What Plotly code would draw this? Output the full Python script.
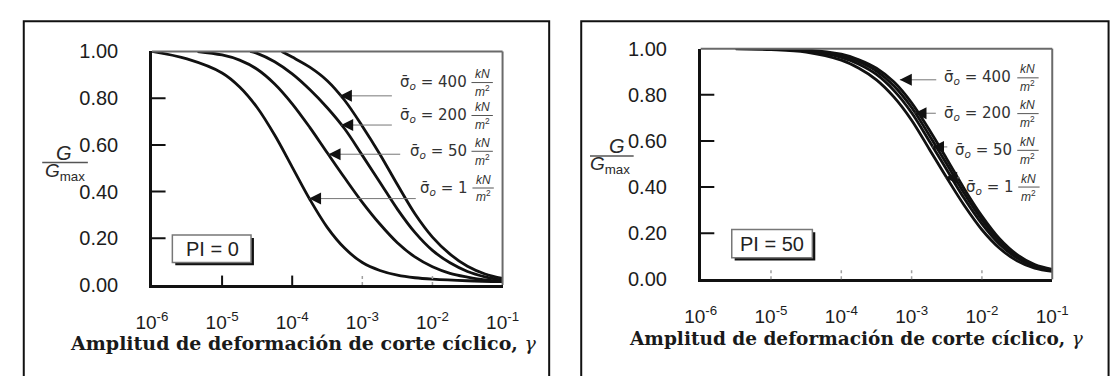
import plotly.graph_objects as go
import numpy as np

W, H = 1110, 376

# ---------------- data ----------------
# PI = 0 (left panel): shear strain and G/Gmax for each effective confining stress
strain_pi0_s1 = [1e-6, 3.16e-6, 1e-5, 1.78e-5, 3.16e-5, 5.62e-5, 1e-4, 1.78e-4, 3.16e-4,
                 5.62e-4, 1e-3, 1.78e-3, 3.16e-3, 5.62e-3, 1e-2, 3.16e-2, 1e-1]
g_pi0_s1 = [1.00, 0.968, 0.908, 0.848, 0.760, 0.642, 0.505, 0.367, 0.247,
            0.157, 0.096, 0.062, 0.042, 0.031, 0.025, 0.018, 0.014]

strain_pi0_s50 = [4.47e-6, 1e-5, 1.78e-5, 3.16e-5, 5.62e-5, 1e-4, 1.78e-4, 3.16e-4, 5.62e-4,
                  1e-3, 1.78e-3, 3.16e-3, 5.62e-3, 1e-2, 1.78e-2, 3.16e-2, 5.62e-2, 1e-1]
g_pi0_s50 = [1.00, 0.985, 0.963, 0.924, 0.861, 0.776, 0.675, 0.566, 0.458,
             0.354, 0.261, 0.181, 0.120, 0.078, 0.050, 0.034, 0.022, 0.016]

strain_pi0_s200 = [2.51e-5, 3.16e-5, 5.62e-5, 1e-4, 1.78e-4, 3.16e-4, 5.62e-4, 1e-3, 1.78e-3,
                   3.16e-3, 5.62e-3, 1e-2, 1.78e-2, 3.16e-2, 5.62e-2, 1e-1]
g_pi0_s200 = [1.00, 0.992, 0.956, 0.904, 0.837, 0.759, 0.668, 0.555, 0.440,
              0.325, 0.225, 0.148, 0.095, 0.058, 0.035, 0.020]

strain_pi0_s400 = [7.08e-5, 1e-4, 1.78e-4, 3.16e-4, 5.62e-4, 1e-3, 1.78e-3, 3.16e-3, 5.62e-3,
                   1e-2, 1.78e-2, 3.16e-2, 5.62e-2, 1e-1]
g_pi0_s400 = [1.00, 0.976, 0.933, 0.875, 0.790, 0.680, 0.560, 0.430, 0.305,
              0.205, 0.132, 0.080, 0.047, 0.028]

# PI = 50 (right panel)
strain_pi50 = [3.16e-6, 1e-5, 3.16e-5, 1e-4, 1.78e-4, 3.16e-4, 5.62e-4, 1e-3, 1.78e-3,
               3.16e-3, 5.62e-3, 1e-2, 1.78e-2, 3.16e-2, 5.62e-2, 1e-1]
g_pi50_s1 = [0.999, 0.996, 0.985, 0.950, 0.915, 0.865, 0.790, 0.690, 0.565,
             0.440, 0.320, 0.215, 0.135, 0.080, 0.048, 0.034]
g_pi50_s50 = [1.000, 0.998, 0.990, 0.962, 0.932, 0.888, 0.818, 0.722, 0.600,
              0.475, 0.350, 0.240, 0.152, 0.092, 0.055, 0.038]
g_pi50_s200 = [1.000, 1.000, 0.993, 0.970, 0.943, 0.903, 0.838, 0.745, 0.625,
               0.500, 0.372, 0.258, 0.165, 0.100, 0.060, 0.041]
g_pi50_s400 = [1.000, 1.000, 0.995, 0.976, 0.952, 0.915, 0.855, 0.765, 0.648,
               0.522, 0.392, 0.274, 0.176, 0.107, 0.064, 0.043]

stress_labels = ["400", "200", "50", "1"]
x_tick_vals = [1e-6, 1e-5, 1e-4, 1e-3, 1e-2, 1e-1]
x_tick_text = ["10<sup>-6</sup>", "10<sup>-5</sup>", "10<sup>-4</sup>",
               "10<sup>-3</sup>", "10<sup>-2</sup>", "10<sup>-1</sup>"]
y_tick_vals = [0, 0.2, 0.4, 0.6, 0.8, 1.0]
y_tick_text = ["0.00", "0.20", "0.40", "0.60", "0.80", "1.00"]
pi_labels = ["PI = 0", "PI = 50"]
x_title = "Amplitud de deformación de corte cíclico, "

# ---------------- figure ----------------
def px(x):
    return x / W

def py(y):
    return 1 - y / H

LINE = dict(color="#111111", width=2.8)
fig = go.Figure()

left_curves = [(strain_pi0_s1, g_pi0_s1), (strain_pi0_s50, g_pi0_s50),
               (strain_pi0_s200, g_pi0_s200), (strain_pi0_s400, g_pi0_s400)]
for sx, sy in left_curves:
    fig.add_trace(go.Scatter(x=sx, y=sy, mode="lines", line=dict(**LINE, shape="spline"),
                             xaxis="x", yaxis="y", hoverinfo="skip", showlegend=False))
for sy in [g_pi50_s1, g_pi50_s50, g_pi50_s200, g_pi50_s400]:
    fig.add_trace(go.Scatter(x=strain_pi50, y=sy, mode="lines", line=dict(**LINE, shape="spline"),
                             xaxis="x2", yaxis="y2", hoverinfo="skip", showlegend=False))

num_font = dict(family="Liberation Sans, Arial, sans-serif", size=20, color="#1c1c1c")
xnum_font = dict(family="Liberation Sans, Arial, sans-serif", size=19, color="#1c1c1c")

def xaxis_cfg(domain, anchor):
    return dict(type="log", range=[-6, -1], domain=domain, anchor=anchor,
                showline=True, linecolor="#111", linewidth=2.5, ticks="",
                tickvals=x_tick_vals, ticktext=x_tick_text, tickfont=xnum_font,
                ticklabelstandoff=18, showgrid=False, zeroline=False)

def yaxis_cfg(domain, anchor):
    return dict(range=[0, 1], domain=domain, anchor=anchor,
                showline=True, linecolor="#111", linewidth=2.5, ticks="",
                tickvals=y_tick_vals, ticktext=y_tick_text, tickfont=num_font,
                ticklabelstandoff=27, showgrid=False, zeroline=False)

fig.update_layout(
    width=W, height=H, margin=dict(l=0, r=0, t=0, b=0),
    paper_bgcolor="white", plot_bgcolor="rgba(0,0,0,0)",
    xaxis=xaxis_cfg([px(140), px(501)], "y"),
    yaxis=yaxis_cfg([py(291), py(43)], "x"),
    xaxis2=xaxis_cfg([px(705), px(1067)], "y2"),
    yaxis2=yaxis_cfg([py(285), py(40)], "x2"),
)

shapes = []
# outer panel borders
shapes.append(dict(type="rect", xref="paper", yref="paper", x0=px(8), x1=px(549),
                   y0=py(11), y1=py(390), line=dict(color="#111", width=2)))
shapes.append(dict(type="rect", xref="paper", yref="paper", x0=px(582), x1=px(1125),
                   y0=py(11), y1=py(390), line=dict(color="#111", width=2)))

for xa, ya in [("x", "y"), ("x2", "y2")]:
    # gray top and right frame
    shapes.append(dict(type="line", xref=f"{xa} domain", yref=f"{ya} domain", x0=0, x1=1, y0=1, y1=1,
                       line=dict(color="#6a6a6a", width=2)))
    shapes.append(dict(type="line", xref=f"{xa} domain", yref=f"{ya} domain", x0=1, x1=1, y0=0, y1=1,
                       line=dict(color="#6a6a6a", width=2)))
    # inside y ticks
    for v in [0.2, 0.4, 0.6, 0.8]:
        shapes.append(dict(type="line", xref=f"{xa} domain", yref=ya, x0=0, x1=14 / 361, y0=v, y1=v,
                           line=dict(color="#111", width=2)))
# x ticks
for i, f in enumerate([0.2, 0.4, 0.6, 0.8]):
    solid = i < 2
    shapes.append(dict(type="line", xref="x domain", yref="y domain", x0=f, x1=f, y0=0, y1=10 / 248,
                       line=dict(color="#111" if solid else "#a0a0a0", width=2 if solid else 1.5,
                                 dash="solid" if solid else "dot")))
    shapes.append(dict(type="line", xref="x2 domain", yref="y2 domain", x0=f, x1=f, y0=0, y1=10 / 245,
                       line=dict(color="#a0a0a0", width=1.5, dash="dot")))

# G/Gmax fraction bars
shapes.append(dict(type="line", xref="paper", yref="paper", x0=px(27), x1=px(74), y0=py(161), y1=py(161),
                   line=dict(color="#555", width=1.5)))
shapes.append(dict(type="line", xref="paper", yref="paper", x0=px(591), x1=px(636), y0=py(154), y1=py(154),
                   line=dict(color="#555", width=1.5)))

# PI boxes with shadow
for (x0, y0, x1, y1) in [(161, 238, 242, 267), (737, 232, 820, 262)]:
    shapes.append(dict(type="rect", xref="paper", yref="paper", x0=px(x0 + 3), x1=px(x1 + 3),
                       y0=py(y0 + 3), y1=py(y1 + 3), line=dict(width=0), fillcolor="#111"))
    shapes.append(dict(type="rect", xref="paper", yref="paper", x0=px(x0), x1=px(x1),
                       y0=py(y0), y1=py(y1), line=dict(color="#777", width=1.5), fillcolor="white"))

ann = []
def text(x, y, t, size=16, color="#2a2a2a", family="Liberation Sans, Arial, sans-serif", xanchor="center"):
    ann.append(dict(xref="paper", yref="paper", x=px(x), y=py(y), text=t, showarrow=False,
                    xanchor=xanchor, yanchor="middle", font=dict(size=size, color=color, family=family)))

# axis label G/Gmax
text(49, 151, "<i>G</i>", size=20)
text(50, 171, "<i>G</i><sub>max</sub>", size=19)
text(619, 143, "<i>G</i>", size=20)
text(612, 164, "<i>G</i><sub>max</sub>", size=19)

# PI labels
text(202, 253, pi_labels[0], size=20, color="#222")
text(778, 247, pi_labels[1], size=20, color="#222")

# x-axis titles
serif = "DejaVu Serif, Liberation Serif, serif"
title_html = "<b>" + x_title + "</b><i>γ</i>"
text(296, 353, title_html, size=19, color="#1a1a1a", family=serif)
text(865, 348, title_html, size=18.5, color="#1a1a1a", family=serif)

# stress labels: (right edge of text, text y, fraction x)
left_lab = [(466, 76, 480), (466, 111, 480), (466, 149, 480), (467, 188, 481)]
right_lab = [(1027, 71, 1042), (1027, 109, 1042), (1028, 148, 1042), (1030, 187, 1043)]
for labs in (left_lab, right_lab):
    for s, (xr, yc, xf) in zip(stress_labels, labs):
        text(xr, yc, "σ̄<sub><i>o</i></sub> = " + s, size=15, color="#333",
             family="DejaVu Sans, sans-serif", xanchor="right")
        text(xf, yc - 9, "<i>kN</i>", size=12, color="#333")
        text(xf, yc + 9, "<i>m</i><sup>2</sup>", size=12, color="#333")
        shapes.append(dict(type="line", xref="paper", yref="paper", x0=px(xf - 11), x1=px(xf + 11),
                           y0=py(yc), y1=py(yc), line=dict(color="#555", width=1)))
fig.update_layout(shapes=shapes)

# arrows: tip (gamma, G) and tail pixel x
left_tips = [(4.79e-4, 0.81, 387), (5.0e-4, 0.685, 387), (3.3e-4, 0.56, 395), (1.74e-4, 0.37, 410)]
right_tips = [(6.8e-4, 0.865, 948), (1.1e-3, 0.72, 948), (1.95e-3, 0.574, 960), (3.0e-3, 0.44, 973)]

def arrows(tips, xa, ya, x_left_px, decade_px):
    for g, v, tail in tips:
        lx = np.log10(g)
        tip_px = x_left_px + (lx + 6) * decade_px
        ann.append(dict(xref=xa, yref=ya, x=lx, y=v, ax=tail - tip_px, ay=0, text="",
                        showarrow=True, arrowhead=0, arrowwidth=1, arrowcolor="#777"))
        ann.append(dict(xref=xa, yref=ya, x=lx, y=v, ax=12, ay=0, text="",
                        showarrow=True, arrowhead=2, arrowsize=2.4, arrowwidth=1, arrowcolor="#111"))

arrows(left_tips, "x", "y", 140, 72.2)
arrows(right_tips, "x2", "y2", 705, 72.4)

fig.update_layout(annotations=ann)
fig.write_html("out.html")
